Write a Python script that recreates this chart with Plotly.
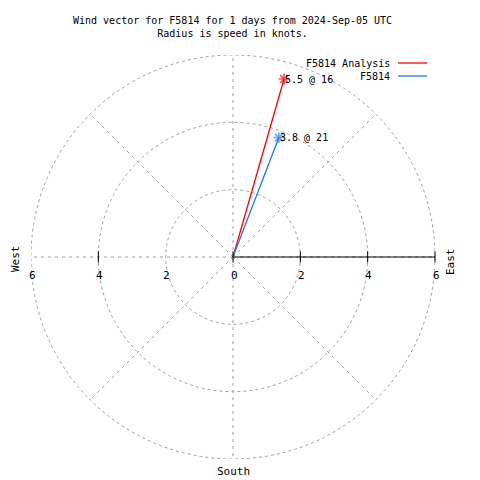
import math
import plotly.graph_objects as go

# ---- data ----
series_names = ["F5814 Analysis", "F5814"]
speeds = [5.5, 3.8]          # knots
directions = [16, 21]        # degrees from north
colors = ["#ff0000", "#1e7ce0"]
rings = [2, 4, 6]
spoke_angles = [0, 45, 90, 135, 180, 225, 270, 315]
tick_vals = [-6, -4, -2, 0, 2, 4, 6]
tick_text = ["6", "4", "2", "0", "2", "4", "6"]
black_ticks = [-4, 0, 2, 4, 6]
title_lines = ["Wind vector for F5814 for 1 days from 2024-Sep-05 UTC",
               "Radius is speed in knots."]

FONT = "DejaVu Sans Mono"
GRID = "#a0a0a0"
RMAX = max(rings)

# page offset (body margin) and plot area in screen pixels
OFF = 8
SL, SR, ST, SB = 31, 435, 55, 459
L = SL - OFF
T = ST - OFF
R = 480 - (SR - OFF)
B = 480 - (SB - OFF)
W = SR - SL
H = SB - ST
px = lambda x: (x - SL) / W
py = lambda y: (SB - y) / H

fig = go.Figure()
shapes = []
# rings
for r in rings:
    shapes.append(dict(type="circle", xref="x", yref="y", x0=-r, y0=-r, x1=r, y1=r,
                       line=dict(color=GRID, width=1, dash="3px,3px"), layer="below"))
# spokes
for a in spoke_angles:
    ang = math.radians(a)
    shapes.append(dict(type="line", xref="x", yref="y", x0=0, y0=0,
                       x1=RMAX * math.sin(ang), y1=RMAX * math.cos(ang),
                       line=dict(color=GRID, width=1, dash="3px,4px"), layer="below"))
# east axis (solid black)
shapes.append(dict(type="line", xref="x", yref="y", x0=0, y0=0, x1=RMAX, y1=0,
                   line=dict(color="black", width=1), layer="below"))

# vectors
for name, s, d, c in zip(series_names, speeds, directions, colors):
    ang = math.radians(d)
    xe, ye = s * math.sin(ang), s * math.cos(ang)
    fig.add_trace(go.Scatter(x=[0, xe], y=[0, ye], mode="lines+markers", name=name,
                             line=dict(color=c, width=1.3),
                             marker=dict(symbol="asterisk-open", size=[0, 9],
                                         color=c, line=dict(color=c, width=1.6)),
                             cliponaxis=False, showlegend=False, hoverinfo="skip"))
    fig.add_annotation(x=xe, y=ye, xref="x", yref="y", text=f"{s} @ {d}",
                       showarrow=False, xanchor="left", yanchor="middle", xshift=-1,
                       font=dict(family=FONT, size=10, color="black"))

# tick marks
fig.add_trace(go.Scatter(x=black_ticks, y=[0] * len(black_ticks), mode="markers",
                         marker=dict(symbol="line-ns", size=8,
                                     line=dict(color="black", width=1)),
                         showlegend=False, hoverinfo="skip", cliponaxis=False))
# tick labels
for v, t in zip(tick_vals, tick_text):
    fig.add_annotation(x=v, y=0, xref="x", yref="y", text=t, showarrow=False,
                       xanchor="center", yanchor="middle", yshift=-18, xshift=1,
                       font=dict(family=FONT, size=11, color="black"))

# title
fig.add_annotation(x=px(232), y=py(26.5), xref="paper", yref="paper",
                   text="<br>".join(title_lines), showarrow=False,
                   xanchor="center", yanchor="middle",
                   font=dict(family=FONT, size=10, color="black"))
# compass labels
fig.add_annotation(x=px(15), y=py(259), xref="paper", yref="paper", text="West",
                   textangle=-90, showarrow=False, xanchor="center", yanchor="middle",
                   font=dict(family=FONT, size=11, color="black"))
fig.add_annotation(x=px(450), y=py(262), xref="paper", yref="paper", text="East",
                   textangle=-90, showarrow=False, xanchor="center", yanchor="middle",
                   font=dict(family=FONT, size=11, color="black"))
fig.add_annotation(x=px(233), y=py(471), xref="paper", yref="paper", text="South",
                   showarrow=False, xanchor="center", yanchor="middle",
                   font=dict(family=FONT, size=11, color="black"))

# legend (manual, gnuplot style)
for i, (name, c) in enumerate(zip(series_names, colors)):
    yy = 63 + 13 * i
    fig.add_annotation(x=px(392), y=py(yy), xref="paper", yref="paper", text=name,
                       showarrow=False, xanchor="right", yanchor="middle",
                       font=dict(family=FONT, size=10, color="black"))
    shapes.append(dict(type="line", xref="paper", yref="paper",
                       x0=px(398), x1=px(427), y0=py(yy), y1=py(yy),
                       line=dict(color=c, width=1.3)))

fig.update_layout(
    width=480, height=480, autosize=False,
    margin=dict(l=L, r=R, t=T, b=B),
    paper_bgcolor="white", plot_bgcolor="white",
    shapes=shapes, showlegend=False,
    xaxis=dict(range=[-RMAX, RMAX], visible=False, fixedrange=True),
    yaxis=dict(range=[-RMAX, RMAX], visible=False, fixedrange=True),
)

fig.write_html("out.html")
